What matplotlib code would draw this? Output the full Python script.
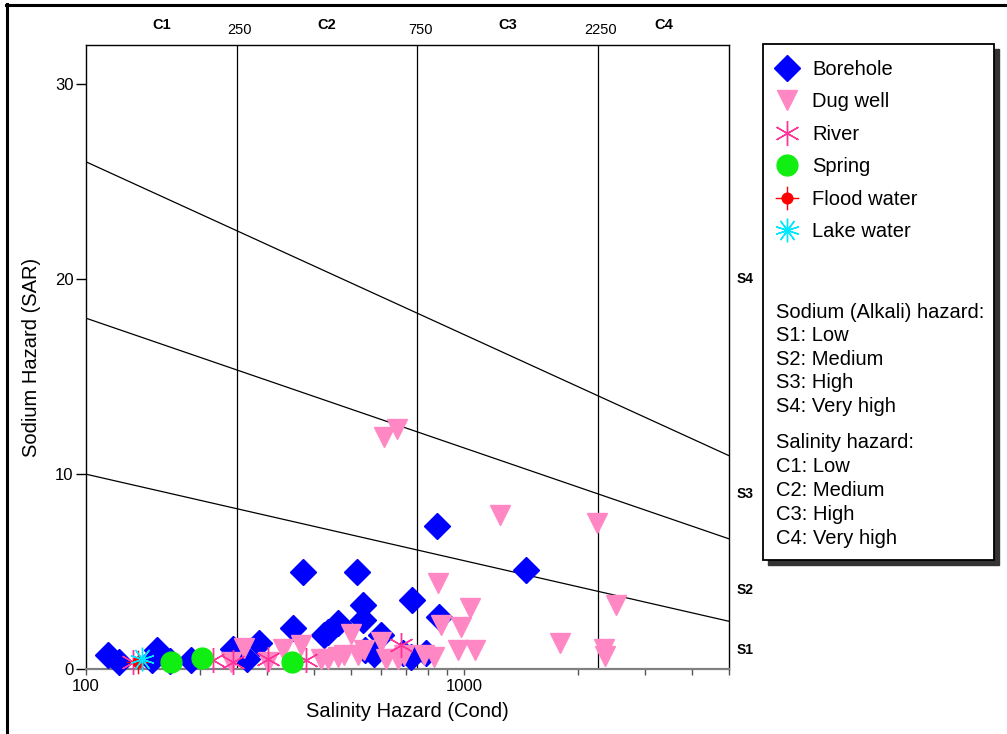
import matplotlib
matplotlib.use("Agg")
import matplotlib.pyplot as plt
import numpy as np
from matplotlib.path import Path
from matplotlib.lines import Line2D
from matplotlib.patches import Rectangle

plt.rcParams['font.family'] = ['Liberation Sans', 'DejaVu Sans']

# ---------------- data ----------------
borehole_ec = [114, 122, 154, 149, 167, 189, 245, 267, 286, 352, 374, 425, 436, 463,
               520, 540, 540, 546, 577, 603, 689, 723, 728, 793, 848, 859, 1452]
borehole_sar = [0.72, 0.36, 0.95, 0.46, 0.41, 0.46, 1.05, 0.5, 1.33, 2.1, 5.0, 1.74, 1.9, 2.35,
                4.97, 3.28, 2.5, 0.97, 0.77, 1.74, 0.82, 0.6, 3.53, 0.82, 7.32, 2.66, 5.07]

dugwell_ec = [241, 261, 302, 331, 370, 418, 436, 463, 481, 501, 522, 543, 603, 621, 668,
              693, 783, 832, 614, 664, 853, 869, 982, 1036, 964, 1064, 1239, 1787, 2240,
              2337, 2355, 2515]
dugwell_sar = [0.36, 1.07, 0.36, 1.02, 1.23, 0.5, 0.5, 0.6, 0.7, 1.8, 0.7, 1.0, 1.4, 0.5, 0.5,
               0.7, 0.7, 0.6, 11.9, 12.3, 4.4, 2.25, 2.15, 3.15, 0.97, 0.97, 7.9, 1.33, 7.5,
               1.02, 0.67, 3.3]

river_ec = [133, 217, 245, 302, 381, 681]
river_sar = [0.36, 0.46, 0.36, 0.5, 0.46, 1.25]

spring_ec = [168, 202, 350]
spring_sar = [0.36, 0.56, 0.36]

flood_ec = [137]
flood_sar = [0.36]

lake_ec = [141]
lake_sar = [0.5]

# salinity class boundaries and sodium hazard boundary lines: SAR = a - b*log10(EC)
c_bounds = [250, 750, 2250]
c_labels = ['C1', 'C2', 'C3', 'C4']
s_line_a = [18.87, 31.31, 43.75]
s_line_b = [4.44, 6.66, 8.87]
s_labels = ['S1', 'S2', 'S3', 'S4']
s_label_y = [1.0, 4.05, 9.0, 20.0]

x_min, x_max = 100, 5000
y_min, y_max = 0, 32

# ---------------- figure ----------------
W, H = 1007, 734
fig = plt.figure(figsize=(W / 100, H / 100), dpi=100)

def fx(px):
    return px / W

def fy(py):
    return 1 - py / H

ax = fig.add_axes([fx(86), fy(669), fx(729) - fx(86), fy(45) - fy(669)])
ax.set_xscale('log')
ax.set_xlim(x_min, x_max)
ax.set_ylim(y_min, y_max)

# boundaries
for cb in c_bounds:
    ax.axvline(cb, color='black', lw=0.9, zorder=1)
xs = np.geomspace(x_min, x_max, 50)
for a, b in zip(s_line_a, s_line_b):
    ax.plot(xs, a - b * np.log10(xs), color='black', lw=0.9, zorder=1)

# custom markers
flood_path = Path.make_compound_path(
    Path.circle((0, 0), 0.45),
    Path([(-1, 0), (1, 0)], [Path.MOVETO, Path.LINETO]),
    Path([(0, -1), (0, 1)], [Path.MOVETO, Path.LINETO]),
)

blue = '#0000FF'
pink = '#FF88C4'
river_c = '#FF3399'
green = '#11EE11'
red = '#FF0000'
cyan = '#00E8FF'

styles = {
    'Borehole': dict(marker='D', ms=13.5, mfc=blue, mec=blue, ls='none'),
    'Dug well': dict(marker='v', ms=15, mfc=pink, mec=pink, ls='none'),
    'River': dict(marker=(6, 2, 0), ms=18, mfc=river_c, mec=river_c, mew=1.0, ls='none'),
    'Spring': dict(marker='o', ms=15, mfc=green, mec=green, ls='none'),
    'Flood water': dict(marker=flood_path, ms=17, mfc=red, mec=red, mew=1.0, ls='none'),
    'Lake water': dict(marker=(10, 2, 0), ms=17, mfc=cyan, mec=cyan, mew=1.0, ls='none'),
}

series = [
    ('Borehole', borehole_ec, borehole_sar),
    ('Dug well', dugwell_ec, dugwell_sar),
    ('River', river_ec, river_sar),
    ('Spring', spring_ec, spring_sar),
    ('Flood water', flood_ec, flood_sar),
    ('Lake water', lake_ec, lake_sar),
]
for i, (name, xv, yv) in enumerate(series):
    ax.plot(xv, yv, clip_on=False, zorder=3 + i, **styles[name])

# axes styling
ax.set_yticks([0, 10, 20, 30])
ax.set_xticks([100, 1000])
ax.set_xticklabels(['100', '1000'])
ax.tick_params(axis='y', direction='out', length=7, width=1.0, labelsize=12, pad=2)
ax.tick_params(axis='x', which='major', direction='out', length=4, width=1.0,
               colors='#555555', labelcolor='black', labelsize=12, pad=3)
ax.tick_params(axis='x', which='minor', direction='out', length=4, width=1.0, colors='#555555')
ax.xaxis.set_minor_formatter(matplotlib.ticker.NullFormatter())
ax.spines['bottom'].set_color('#808080')
ax.spines['bottom'].set_linewidth(1.6)
for s in ['left', 'top', 'right']:
    ax.spines[s].set_linewidth(1.0)
    ax.spines[s].set_color('black')

ax.set_xlabel('Salinity Hazard (Cond)', fontsize=14.5, labelpad=6)
ax.set_ylabel('Sodium Hazard (SAR)', fontsize=14.5, labelpad=10)

# top labels
bounds_full = [x_min] + c_bounds + [x_max]
for i, lab in enumerate(c_labels):
    xm = np.sqrt(bounds_full[i] * bounds_full[i + 1])
    ax.text(xm, 1.0 + 20 / 624, lab, transform=ax.get_xaxis_transform(),
            ha='center', va='center', fontsize=10.5, fontweight='bold')
for cb in c_bounds:
    ax.text(cb * 1.02, 1.0 + 15 / 624, str(cb), transform=ax.get_xaxis_transform(),
            ha='center', va='center', fontsize=10.5)

# right labels
for lab, yv in zip(s_labels, s_label_y):
    ax.text(1.0 + 16 / 643, yv, lab, transform=ax.get_yaxis_transform(),
            ha='center', va='center', fontsize=10, fontweight='bold')

# legend box with shadow
bx0, by0, bx1, by1 = 763, 44, 994, 560
fig.patches.append(Rectangle((fx(bx0 + 5), fy(by1 + 5)), fx(bx1 - bx0), fy(by0) - fy(by1),
                             transform=fig.transFigure, facecolor='#333333',
                             edgecolor='#333333', lw=1, zorder=1))
fig.patches.append(Rectangle((fx(bx0), fy(by1)), fx(bx1 - bx0), fy(by0) - fy(by1),
                             transform=fig.transFigure, facecolor='white',
                             edgecolor='black', lw=1.3, zorder=2))

handles = [Line2D([], [], **styles[name]) for name, _, _ in series]
labels = [name for name, _, _ in series]
leg = fig.legend(handles, labels, loc='upper left',
                 bbox_to_anchor=(fx(773), fy(60)), frameon=False,
                 fontsize=14.5, handlelength=1.4, handletextpad=0.55,
                 labelspacing=0.67, borderaxespad=0, borderpad=0)
leg.set_zorder(5)

notes_1 = ['Sodium (Alkali) hazard:', 'S1: Low', 'S2: Medium', 'S3: High', 'S4: Very high']
notes_2 = ['Salinity hazard:', 'C1: Low', 'C2: Medium', 'C3: High', 'C4: Very high']
y0 = 312
for i, t in enumerate(notes_1):
    fig.text(fx(776), fy(y0 + i * 23.6), t, ha='left', va='center', fontsize=14.5, zorder=6)
y0 = 442
for i, t in enumerate(notes_2):
    fig.text(fx(776), fy(y0 + i * 24), t, ha='left', va='center', fontsize=14.5, zorder=6)

# outer figure frame (left and top edges visible)
fig.add_artist(Line2D([fx(7), fx(7)], [fy(4), 0], transform=fig.transFigure, color='black', lw=2.2))
fig.add_artist(Line2D([fx(6), 1], [fy(5), fy(5)], transform=fig.transFigure, color='black', lw=2.2))

fig.savefig('out.png', dpi=100)
